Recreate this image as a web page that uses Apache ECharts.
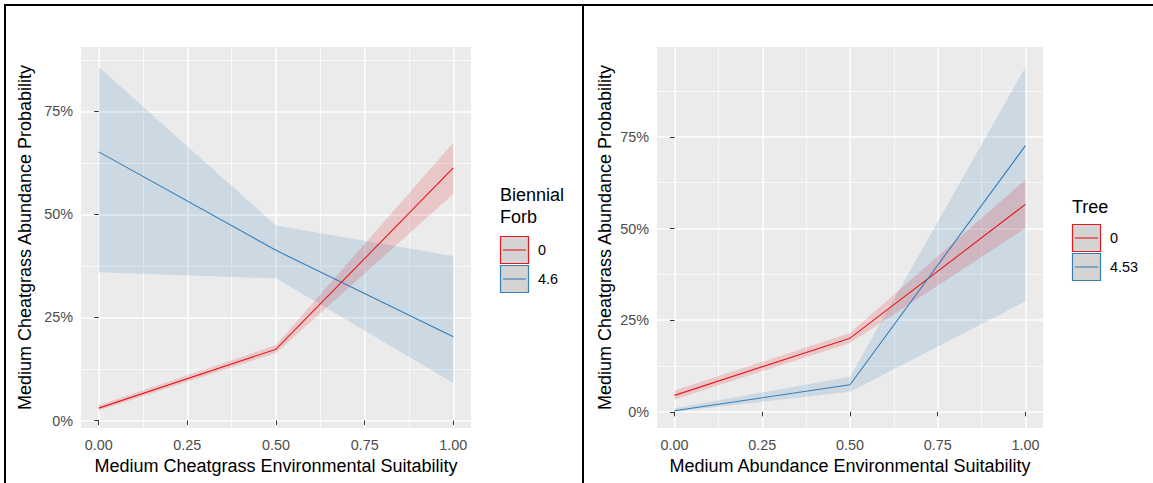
<!DOCTYPE html>
<html>
<head>
<meta charset="utf-8">
<script src="https://cdn.jsdelivr.net/npm/echarts@6/dist/echarts.min.js"></script>
<style>
  html, body { margin: 0; padding: 0; background: #ffffff; }
  #chart { width: 1153px; height: 483px; }
</style>
</head>
<body>
<div id="chart"></div>
<script>
// Shared x positions and axis ticks
const suitability = [0, 0.5, 1];
const xTicks = [0, 0.25, 0.5, 0.75, 1];
const xMinorTicks = [0.125, 0.375, 0.625, 0.875];
const yTicks = [0, 25, 50, 75];
const yMinorTicks = [12.5, 37.5, 62.5, 87.5];

// Left panel: effect of biennial forb cover (values in %)
const forbTitle = 'Biennial\nForb';
const forbLevels = ['0', '4.6'];
const forb0Fit = [3.0, 17.3, 61.3];
const forb0Low = [2.4, 16.4, 55.0];
const forb0High = [3.7, 18.3, 67.4];
const forb46Fit = [65.2, 41.3, 20.3];
const forb46Low = [36.0, 34.5, 9.1];
const forb46High = [85.8, 47.3, 39.9];

// Right panel: effect of tree cover (values in %)
const treeTitle = 'Tree';
const treeLevels = ['0', '4.53'];
const tree0Fit = [4.5, 20.1, 56.6];
const tree0Low = [3.4, 18.8, 50.1];
const tree0High = [5.8, 21.5, 63.3];
const tree453Fit = [0.3, 7.4, 72.6];
const tree453Low = [0.0, 5.5, 30.1];
const tree453High = [1.0, 9.6, 94.0];

const leftXTitle = 'Medium Cheatgrass Environmental Suitability';
const rightXTitle = 'Medium Abundance Environmental Suitability';
const yTitle = 'Medium Cheatgrass Abundance Probability';

const RED = '#E41A1C';
const BLUE = '#377EB8';
const RED_FILL = 'rgba(228,26,28,0.17)';
const BLUE_FILL = 'rgba(55,126,184,0.17)';
const FONT = '"Liberation Sans", Arial, sans-serif';

const pairs = (xs, ys) => xs.map((x, i) => [x, ys[i]]);

function majorX(grid, title) {
  return {
    gridIndex: grid, type: 'value', min: -0.05, max: 1.05,
    name: title, nameLocation: 'middle', nameGap: 26,
    nameTextStyle: { fontSize: 18, color: '#000', fontFamily: FONT },
    axisLine: { show: false },
    axisTick: { show: true, length: 4.5, customValues: xTicks, lineStyle: { color: '#333', width: 1 } },
    axisLabel: { customValues: xTicks, formatter: v => v.toFixed(2), color: '#4D4D4D', fontSize: 14.4, fontFamily: FONT, margin: 10 },
    splitLine: { show: true, lineStyle: { color: '#FFFFFF', width: 1.5 } }
  };
}
function minorX(grid) {
  return {
    gridIndex: grid, type: 'value', min: -0.05, max: 1.05, position: 'bottom',
    axisLine: { show: false }, axisLabel: { show: false },
    axisTick: { show: false, customValues: xMinorTicks },
    splitLine: { show: true, lineStyle: { color: '#FFFFFF', width: 0.7 } }
  };
}
function majorY(grid, min, max, gap) {
  return {
    gridIndex: grid, type: 'value', min: min, max: max,
    name: yTitle, nameLocation: 'middle', nameGap: gap,
    nameTextStyle: { fontSize: 18, color: '#000', fontFamily: FONT },
    axisLine: { show: false },
    axisTick: { show: true, length: 4.5, customValues: yTicks, lineStyle: { color: '#333', width: 1 } },
    axisLabel: { customValues: yTicks, formatter: v => v + '%', color: '#4D4D4D', fontSize: 14.4, fontFamily: FONT, margin: 8 },
    splitLine: { show: true, lineStyle: { color: '#FFFFFF', width: 1.5 } }
  };
}
function minorY(grid, min, max) {
  return {
    gridIndex: grid, type: 'value', min: min, max: max, position: 'left',
    axisLine: { show: false }, axisLabel: { show: false },
    axisTick: { show: false, customValues: yMinorTicks },
    splitLine: { show: true, lineStyle: { color: '#FFFFFF', width: 0.7 } }
  };
}

// Confidence ribbon: one polygon along the upper bound and back along the lower bound
function ribbon(axisIdx, low, high, fill) {
  const rows = suitability.map((x, i) => [x, low[i], high[i]]);
  return {
    type: 'custom', xAxisIndex: axisIdx, yAxisIndex: axisIdx,
    data: rows, encode: { x: 0, y: [1, 2] }, silent: true, z: 1, animation: false, clip: true,
    renderItem: function (params, api) {
      if (params.dataIndex !== 0) return null;
      const upper = rows.map(r => api.coord([r[0], r[2]]));
      const lower = rows.map(r => api.coord([r[0], r[1]])).reverse();
      return {
        type: 'polygon',
        shape: { points: upper.concat(lower) },
        style: { fill: fill, stroke: 'none' }
      };
    }
  };
}
function fitLine(axisIdx, fit, color) {
  return {
    type: 'line', xAxisIndex: axisIdx, yAxisIndex: axisIdx,
    data: pairs(suitability, fit), symbol: 'none', silent: true, z: 3, animation: false,
    lineStyle: { color: color, width: 1.1 }
  };
}

// Legend keys: grey box, coloured outline, line through the middle
function legendGroup(x, titleText, titleY, levels, keyTop) {
  const children = [{
    type: 'text', x: 0, y: titleY,
    style: { text: titleText, font: '18px ' + FONT, lineHeight: 22, fill: '#000', textVerticalAlign: 'top' }
  }];
  const colors = [RED, BLUE];
  levels.forEach((lab, i) => {
    const top = keyTop + i * 29;
    children.push({
      type: 'rect', shape: { x: 0.5, y: top + 0.5, width: 28, height: 27 },
      style: { fill: '#D4D4D4', stroke: colors[i], lineWidth: 1.2 }
    });
    children.push({
      type: 'line', shape: { x1: 3, y1: top + 14, x2: 26, y2: top + 14 },
      style: { stroke: colors[i], lineWidth: 1.1 }
    });
    children.push({
      type: 'text', x: 38, y: top + 14,
      style: { text: lab, font: '14.4px ' + FONT, fill: '#000', textVerticalAlign: 'middle' }
    });
  });
  return { type: 'group', x: x, y: 0, children: children };
}

const chart = echarts.init(document.getElementById('chart'), null, { renderer: 'svg' });

const option = {
  backgroundColor: '#FFFFFF',
  animation: false,
  textStyle: { fontFamily: FONT },
  grid: [
    { left: 81, top: 47, width: 390, height: 381, show: true, backgroundColor: '#EBEBEB', borderWidth: 0 },
    { left: 657, top: 47, width: 386, height: 381, show: true, backgroundColor: '#EBEBEB', borderWidth: 0 }
  ],
  xAxis: [ majorX(0, leftXTitle), minorX(0), majorX(1, rightXTitle), minorX(1) ],
  yAxis: [ majorY(0, -1.82, 90.65, 47), minorY(0, -1.82, 90.65), majorY(1, -4.4, 99.5, 43), minorY(1, -4.4, 99.5) ],
  series: [
    ribbon(0, forb46Low, forb46High, BLUE_FILL),
    ribbon(0, forb0Low, forb0High, RED_FILL),
    fitLine(0, forb0Fit, RED),
    fitLine(0, forb46Fit, BLUE),
    ribbon(2, tree453Low, tree453High, BLUE_FILL),
    ribbon(2, tree0Low, tree0High, RED_FILL),
    fitLine(2, tree0Fit, RED),
    fitLine(2, tree453Fit, BLUE)
  ],
  graphic: [
    // frame: top edge, left edge, panel divider
    { type: 'line', shape: { x1: 4, y1: 5, x2: 1153, y2: 5 }, style: { stroke: '#000', lineWidth: 2 } },
    { type: 'line', shape: { x1: 5, y1: 4, x2: 5, y2: 483 }, style: { stroke: '#000', lineWidth: 2 } },
    { type: 'line', shape: { x1: 583, y1: 4, x2: 583, y2: 483 }, style: { stroke: '#000', lineWidth: 2 } },
    legendGroup(500, forbTitle, 184, forbLevels, 236),
    legendGroup(1072, treeTitle, 196, treeLevels, 224)
  ]
};
chart.setOption(option);
</script>
</body>
</html>
